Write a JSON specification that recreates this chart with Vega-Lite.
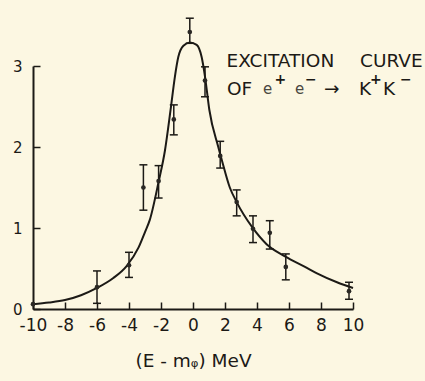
{
  "$schema": "https://vega.github.io/schema/vega-lite/v6.json",
  "width": 320,
  "height": 243,
  "autosize": {"type": "none"},
  "padding": {"left": 33, "top": 66, "right": 72, "bottom": 72},
  "background": "#fcf7e2",
  "config": {
    "view": {"stroke": null},
    "font": "DejaVu Sans",
    "axis": {"labelOverlap": false, "labelBound": false, "labelFlush": false, "labelSeparation": 0}
  },
  "datasets": {
    "curve": [
      {"x": -10, "y": 0.06}, {"x": -9, "y": 0.08}, {"x": -8, "y": 0.11}, {"x": -7, "y": 0.17},
      {"x": -6, "y": 0.26}, {"x": -5, "y": 0.38}, {"x": -4.15, "y": 0.53}, {"x": -3.4, "y": 0.76},
      {"x": -3, "y": 0.95}, {"x": -2.7, "y": 1.1}, {"x": -2.15, "y": 1.57}, {"x": -1.75, "y": 1.96},
      {"x": -1.4, "y": 2.46}, {"x": -1.13, "y": 2.87}, {"x": -0.92, "y": 3.11}, {"x": -0.6, "y": 3.25},
      {"x": -0.2, "y": 3.29}, {"x": 0.23, "y": 3.26}, {"x": 0.54, "y": 3.11}, {"x": 0.75, "y": 2.87},
      {"x": 1.02, "y": 2.46}, {"x": 1.58, "y": 2.0}, {"x": 1.8, "y": 1.84}, {"x": 2.3, "y": 1.5},
      {"x": 2.73, "y": 1.32}, {"x": 3.7, "y": 1.01}, {"x": 4.6, "y": 0.8}, {"x": 5.75, "y": 0.65},
      {"x": 7, "y": 0.52}, {"x": 7.75, "y": 0.44}, {"x": 9, "y": 0.33}, {"x": 10, "y": 0.26}
    ],
    "points": [
      {"x": -10, "y": 0.06},
      {"x": -6, "y": 0.27, "lo": 0.07, "hi": 0.47},
      {"x": -4, "y": 0.54, "lo": 0.39, "hi": 0.7},
      {"x": -3.1, "y": 1.5, "lo": 1.22, "hi": 1.78},
      {"x": -2.15, "y": 1.58, "lo": 1.37, "hi": 1.77},
      {"x": -1.2, "y": 2.34, "lo": 2.15, "hi": 2.52},
      {"x": -0.2, "y": 3.42, "lo": 3.28, "hi": 3.59},
      {"x": 0.75, "y": 2.82, "lo": 2.62, "hi": 2.99},
      {"x": 1.7, "y": 1.89, "lo": 1.74, "hi": 2.07},
      {"x": 2.73, "y": 1.32, "lo": 1.15, "hi": 1.47},
      {"x": 3.75, "y": 0.99, "lo": 0.82, "hi": 1.15},
      {"x": 4.8, "y": 0.94, "lo": 0.74, "hi": 1.09},
      {"x": 5.8, "y": 0.52, "lo": 0.36, "hi": 0.68},
      {"x": 9.75, "y": 0.22, "lo": 0.12, "hi": 0.33}
    ],
    "labels": [
      {"x": 2.1, "y": 3.06, "text": "EXCITATION"},
      {"x": 10.44, "y": 3.06, "text": "CURVE"},
      {"x": 2.125, "y": 2.72, "text": "OF"},
      {"x": 8.19, "y": 2.72, "text": "→"},
      {"x": 10.375, "y": 2.72, "text": "K"},
      {"x": 11.875, "y": 2.72, "text": "K"}
    ],
    "small": [
      {"x": 4.375, "y": 2.71, "text": "e"},
      {"x": 6.375, "y": 2.71, "text": "e"}
    ],
    "sup": [
      {"x": 5.1, "y": 2.83, "text": "+"},
      {"x": 7.0, "y": 2.83, "text": "−"},
      {"x": 11.06, "y": 2.83, "text": "+"},
      {"x": 12.94, "y": 2.83, "text": "−"}
    ]
  },
  "encoding": {
    "x": {
      "field": "x", "type": "quantitative",
      "scale": {"domain": [-10, 10], "nice": false},
      "axis": {
        "values": [-10, -8, -6, -4, -2, 0, 2, 4, 6, 8, 10],
        "labelExpr": "datum.value < 0 ? '-' + abs(datum.value) : '' + datum.value",
        "labelOverlap": false,
        "grid": false, "tickSize": -7, "tickWidth": 1.5, "tickColor": "#1c1a16",
        "domainColor": "#1c1a16", "domainWidth": 2,
        "labelFontSize": 17, "labelColor": "#1c1a16", "labelPadding": 15,
        "title": "(E - mᵩ) MeV", "titleFontSize": 18.5, "titleFontWeight": "normal",
        "titleColor": "#1c1a16", "titlePadding": 18
      }
    },
    "y": {
      "field": "y", "type": "quantitative",
      "scale": {"domain": [0, 3], "nice": false},
      "axis": {
        "values": [0, 1, 2, 3],
        "labelExpr": "'' + datum.value",
        "labelOverlap": false,
        "grid": false, "tickSize": -7, "tickWidth": 1.5, "tickColor": "#1c1a16",
        "domainColor": "#1c1a16", "domainWidth": 2,
        "labelFontSize": 15, "labelColor": "#1c1a16", "labelPadding": 18,
        "title": null
      }
    }
  },
  "layer": [
    {
      "data": {"name": "curve"},
      "mark": {"type": "line", "interpolate": "monotone", "strokeWidth": 2, "color": "#1c1a16"}
    },
    {
      "data": {"name": "points"},
      "transform": [{"filter": "isValid(datum.lo)"}],
      "mark": {"type": "rule", "strokeWidth": 1.5, "color": "#1c1a16"},
      "encoding": {
        "y": {"field": "lo", "type": "quantitative"},
        "y2": {"field": "hi"}
      }
    },
    {
      "data": {"name": "points"},
      "transform": [{"filter": "isValid(datum.lo)"}],
      "mark": {"type": "tick", "orient": "horizontal", "size": 8, "thickness": 1.5, "color": "#1c1a16", "opacity": 1},
      "encoding": {
        "y": {"field": "lo", "type": "quantitative"}
      }
    },
    {
      "data": {"name": "points"},
      "transform": [{"filter": "isValid(datum.lo)"}],
      "mark": {"type": "tick", "orient": "horizontal", "size": 8, "thickness": 1.5, "color": "#1c1a16", "opacity": 1},
      "encoding": {
        "y": {"field": "hi", "type": "quantitative"}
      }
    },
    {
      "data": {"name": "points"},
      "mark": {"type": "circle", "size": 22, "color": "#2a2824", "opacity": 1}
    },
    {
      "data": {"name": "labels"},
      "mark": {"type": "text", "align": "left", "baseline": "middle", "fontSize": 18.5, "color": "#1c1a16"},
      "encoding": {"text": {"field": "text"}}
    },
    {
      "data": {"name": "small"},
      "mark": {"type": "text", "align": "left", "baseline": "middle", "fontSize": 15, "color": "#4a4740"},
      "encoding": {"text": {"field": "text"}}
    },
    {
      "data": {"name": "sup"},
      "mark": {"type": "text", "align": "left", "baseline": "middle", "fontSize": 14, "fontWeight": "bold", "color": "#1c1a16"},
      "encoding": {"text": {"field": "text"}}
    }
  ]
}
